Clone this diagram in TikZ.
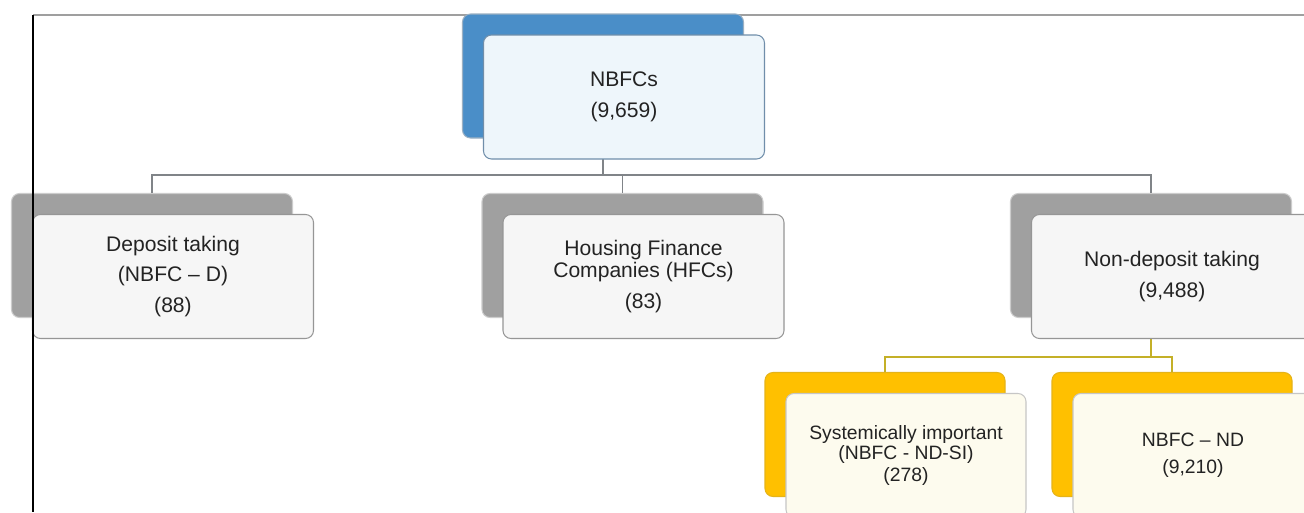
\documentclass[tikz,border=0pt]{standalone}
\usepackage{fontspec}
\setmainfont{Liberation Sans}
\usetikzlibrary{positioning}
\definecolor{rootblue}{RGB}{74,142,200}
\definecolor{rootedge}{RGB}{112,142,170}
\definecolor{rootfill}{RGB}{238,246,251}
\definecolor{greyback}{RGB}{160,160,160}
\definecolor{greyedge}{RGB}{150,150,150}
\definecolor{greyfill}{RGB}{246,246,246}
\definecolor{amber}{RGB}{255,192,0}
\definecolor{amberfill}{RGB}{253,251,238}
\definecolor{amberlink}{RGB}{196,176,40}
\definecolor{linkgrey}{RGB}{128,132,136}
\definecolor{textdark}{RGB}{35,35,35}

\begin{document}
\begin{tikzpicture}[
    back/.style={rectangle, rounded corners=0.16cm, minimum width=5.62cm, minimum height=2.48cm, draw=gray!40, line width=0.6pt},
    front/.style={rectangle, rounded corners=0.16cm, minimum width=5.62cm, minimum height=2.48cm, line width=0.6pt, align=center, text=textdark, font=\fontsize{12}{12.5}\selectfont},
    small/.style={minimum width=4.8cm, font=\fontsize{11}{11.5}\selectfont},
    link/.style={linkgrey, line width=1.1pt},
    ylink/.style={amberlink, line width=1.1pt}]
  \clip (0,0) rectangle (26.08,-10.24);
  \fill[white] (0,0) rectangle (26.08,-10.24);
  % frame top
  \draw[gray!75, line width=1.2pt] (0.66,-0.3) -- (26.08,-0.3);
  % back boxes
  \node[back, fill=rootblue, draw=rootedge!70] (rootb) at (12.06,-1.52) {};
  \node[back, fill=greyback] (lb) at (3.04,-5.11) {};
  \node[back, fill=greyback] (mb) at (12.45,-5.11) {};
  \node[back, fill=greyback] (rb) at (23.02,-5.11) {};
  \node[back, small, fill=amber, draw=amber!80!gray] (sib) at (17.70,-8.69) {};
  \node[back, small, fill=amber, draw=amber!80!gray] (ndb) at (23.44,-8.69) {};
  % connectors
  \coordinate (bus) at (0,-3.5);
  \coordinate (ybus) at (0,-7.14);
  \draw[link] (rootb.south) -- (rootb.south |- bus) -| (lb.north);
  \draw[link] (rootb.south |- bus) -| (mb.north);
  \draw[link] (rootb.south |- bus) -| (rb.north);
  \draw[ylink] (rb.south) -- (rb.south |- ybus) -| (sib.north);
  \draw[ylink] (rb.south |- ybus) -| (ndb.north);
  % front boxes
  \node[front, fill=rootfill, draw=rootedge, below right=0.42cm and 0.42cm of rootb.north west] (rootf) {NBFCs\\[5.1pt](9,659)};
  \node[front, fill=greyfill, draw=greyedge, below right=0.42cm and 0.42cm of lb.north west] (lf) {Deposit taking\\[4.8pt](NBFC – D)\\[4.8pt](88)};
  \node[front, fill=greyfill, draw=greyedge, below right=0.42cm and 0.42cm of mb.north west] (mf) {Housing Finance\\Companies (HFCs)\\[5.1pt](83)};
  \node[front, fill=greyfill, draw=greyedge, below right=0.42cm and 0.42cm of rb.north west] (rf) {Non-deposit taking\\[5.1pt](9,488)};
  \node[front, small, fill=amberfill, draw=gray!45, below right=0.42cm and 0.42cm of sib.north west] (sif) {Systemically important\\(NBFC - ND-SI)\\[1pt](278)};
  \node[front, small, fill=amberfill, draw=gray!45, below right=0.42cm and 0.42cm of ndb.north west] (ndf) {NBFC – ND\\[3.8pt](9,210)};
  % frame left
  \draw[black, line width=0.6pt] (0.66,-0.3) -- (0.66,-10.24);
\end{tikzpicture}
\end{document}
